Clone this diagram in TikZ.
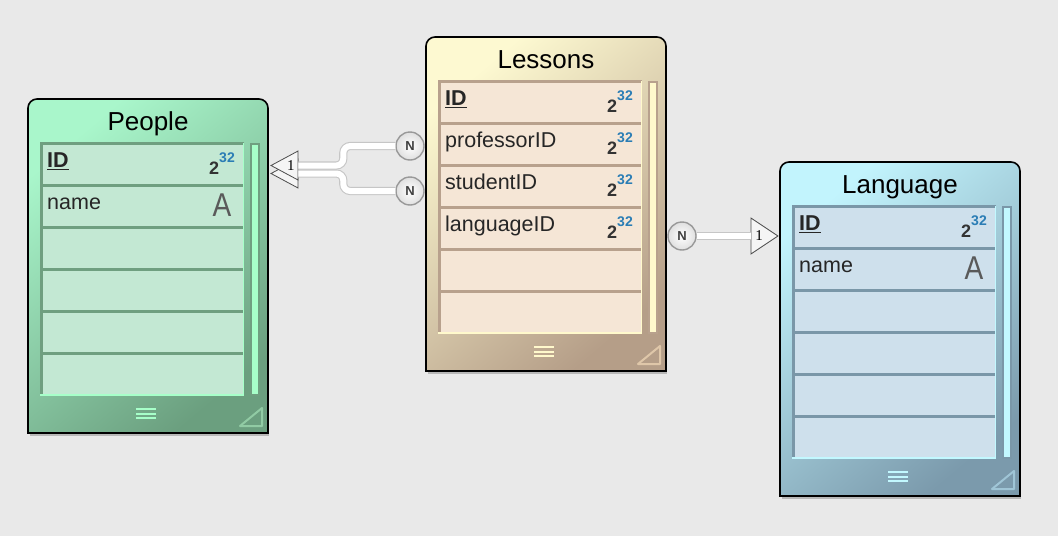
\documentclass[tikz,border=0pt]{standalone}
\usepackage{fontspec}
\setmainfont{Liberation Sans}
\newfontfamily\serifone{Liberation Serif}
\usetikzlibrary{shapes.geometric,calc}
\newcommand{\rowh}{42}

\definecolor{canvas}{HTML}{E9E9E9}
\definecolor{pplTL}{HTML}{A9F6CB}
\definecolor{pplMid}{HTML}{8DD2A7}
\definecolor{pplBR}{HTML}{6B9F7F}
\definecolor{pplRow}{HTML}{C3E8D3}
\definecolor{pplLine}{HTML}{6F9F80}
\definecolor{pplHi}{HTML}{A7FFC9}
\definecolor{pplMark}{HTML}{91CBA4}
\definecolor{lesTL}{HTML}{FDF9D1}
\definecolor{lesMid}{HTML}{DDCFAB}
\definecolor{lesBR}{HTML}{B59E88}
\definecolor{lesRow}{HTML}{F5E6D6}
\definecolor{lesLine}{HTML}{B8A18D}
\definecolor{lesHi}{HTML}{FFF9CC}
\definecolor{lesMark}{HTML}{DFC7A9}
\definecolor{lanTL}{HTML}{C2F4FD}
\definecolor{lanMid}{HTML}{9FCCDA}
\definecolor{lanBR}{HTML}{7B9AAC}
\definecolor{lanRow}{HTML}{CEE0EC}
\definecolor{lanLine}{HTML}{7A97A8}
\definecolor{lanHi}{HTML}{C2F8FF}
\definecolor{lanMark}{HTML}{9FC5D6}
\definecolor{intblue}{HTML}{2A7DB5}
\definecolor{typegray}{HTML}{5A5A5A}

\newcommand{\typeint}{{\fontsize{18}{18}\selectfont\bfseries\color{black!80}2}\raisebox{12pt}{\fontsize{14}{14}\selectfont\bfseries\color{intblue}32}}
\newcommand{\typestr}{{\fontsize{33}{33}\selectfont\color{typegray}\scalebox{0.85}[1]{A}}}

\tikzset{
  titletext/.style={anchor=base, inner sep=0, font=\fontsize{26}{30}\selectfont},
  fieldtext/.style={anchor=base west, inner sep=0, text=black!85, font=\fontsize{21.5}{26}\selectfont},
  typeicon/.style={inner sep=0},
  nmark/.style={circle, draw=gray!80, line width=1.4, inner color=white, outer color=gray!25,
    minimum size=28, inner sep=0, text=black!75, font=\fontsize{13}{13}\selectfont\bfseries},
  onemark/.style={isosceles triangle, isosceles triangle stretches, draw=black!70, fill=gray!8,
    line width=0.8, inner sep=0, font=\serifone\fontsize{15}{15}\selectfont},
  relline/.style={draw=gray!45, double=white, double distance=6, line width=1.1, rounded corners=7}
}

% #1 name, #2 x, #3 y, #4 title, #5 colour prefix, #6 fields
\newcommand{\entity}[6]{%
  \begin{scope}[shift={(#2,#3)}]
    \fill[black!28] (2,334) rectangle (241,337);
    \path[draw=black, line width=1.6, top color=#5TL, middle color=#5Mid, bottom color=#5BR, shading angle=40]
      (0,334) -- (0,9) arc[start angle=180,end angle=270,radius=9] -- (231,0)
      arc[start angle=270,end angle=360,radius=9] -- (240,334) -- cycle;
    \node[titletext] (#1-title) at (120,31) {#4};
    \fill[#5Row] (12,44) rectangle (216,296);
    \foreach \k in {0,...,5}
      \draw[#5Line, line width=3] (12,44+\k*\rowh) -- (216,44+\k*\rowh);
    \draw[#5Line, line width=3] (13.5,44) -- (13.5,296);
    \draw[#5Hi, line width=2.5] (12,296) -- (216,296);
    \draw[#5Hi, line width=1.2] (215.5,44) -- (215.5,296);
    \draw[#5Line, fill=#5Hi, line width=2] (223,45) rectangle (231,296);
    \foreach \dy in {310,314.5,319}
      \draw[#5Hi, line width=2] (108,\dy) -- (128,\dy);
    \draw[#5Mark, line width=2, line join=round] (212,327) -- (234,309) -- (234,327) -- cycle;
    \foreach \key/\lab/\typ [count=\i from 0] in {#6}{
      \node[fieldtext] (#1-\key) at (19,44+\i*\rowh+24.5) {\lab};
      \node[typeicon] (#1-\key-type) at (194,44+\i*\rowh+20.5) {\csname type\typ\endcsname};
    }
  \end{scope}}

\begin{document}
\begin{tikzpicture}[x=1pt,y=-1pt]
\useasboundingbox (0,0) rectangle (1058,536);
\fill[canvas] (0,0) rectangle (1058,536);

\entity{people}{28}{99}{People}{ppl}{id/{\underline{\textbf{ID}}}/int, name/name/str}
\entity{lessons}{426}{37}{Lessons}{les}{id/{\underline{\textbf{ID}}}/int, prof/professorID/int, stud/studentID/int, lang/languageID/int}
\entity{language}{780}{162}{Language}{lan}{id/{\underline{\textbf{ID}}}/int, name/name/str}

% relationship markers
\node[nmark] (nProf) at (410,146) {N};
\node[nmark] (nStud) at (410,191) {N};
\node[nmark] (nLang) at (682,236) {N};
\node[onemark, shape border rotate=180, minimum width=29, minimum height=27, anchor=apex] (oneB) at (270,173.5) {};
\node[onemark, shape border rotate=180, minimum width=29, minimum height=27, anchor=apex] (oneA) at (270,165.5) {1};
\node[onemark, minimum width=36, minimum height=27, anchor=apex] (oneL) at (779,236) {1};

\draw[relline] (nProf.west) -- ++(-52,0) |- (oneA.lower side);
\draw[relline] (nStud.west) -- ++(-52,0) |- (oneB.lower side);
\draw[relline] (nLang.east) -- (oneL.lower side);
\end{tikzpicture}
\end{document}
